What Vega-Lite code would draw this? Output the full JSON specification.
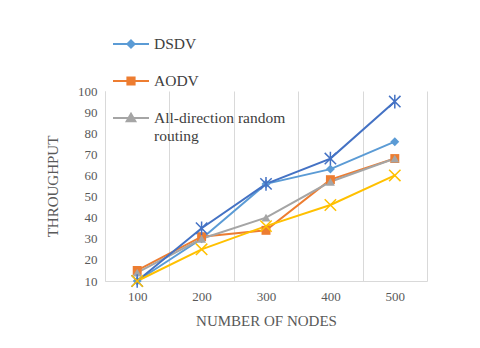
{
  "$schema": "https://vega.github.io/schema/vega-lite/v6.json",
  "width": 322,
  "height": 190,
  "autosize": {"type": "none"},
  "padding": {"left": 105, "top": 91, "right": 53, "bottom": 67},
  "background": "white",
  "config": {
    "view": {"stroke": null},
    "font": "Liberation Serif"
  },
  "data": {
    "values": [
      {"nodes": 100, "series": "DSDV", "throughput": 10},
      {"nodes": 200, "series": "DSDV", "throughput": 30},
      {"nodes": 300, "series": "DSDV", "throughput": 56},
      {"nodes": 400, "series": "DSDV", "throughput": 63},
      {"nodes": 500, "series": "DSDV", "throughput": 76},
      {"nodes": 100, "series": "AODV", "throughput": 15},
      {"nodes": 200, "series": "AODV", "throughput": 31},
      {"nodes": 300, "series": "AODV", "throughput": 34},
      {"nodes": 400, "series": "AODV", "throughput": 58},
      {"nodes": 500, "series": "AODV", "throughput": 68},
      {"nodes": 100, "series": "All-direction random routing", "throughput": 14},
      {"nodes": 200, "series": "All-direction random routing", "throughput": 30},
      {"nodes": 300, "series": "All-direction random routing", "throughput": 40},
      {"nodes": 400, "series": "All-direction random routing", "throughput": 57},
      {"nodes": 500, "series": "All-direction random routing", "throughput": 68},
      {"nodes": 100, "series": "Series 4", "throughput": 10},
      {"nodes": 200, "series": "Series 4", "throughput": 35},
      {"nodes": 300, "series": "Series 4", "throughput": 56},
      {"nodes": 400, "series": "Series 4", "throughput": 68},
      {"nodes": 500, "series": "Series 4", "throughput": 95},
      {"nodes": 100, "series": "Series 5", "throughput": 10},
      {"nodes": 200, "series": "Series 5", "throughput": 25},
      {"nodes": 300, "series": "Series 5", "throughput": 36},
      {"nodes": 400, "series": "Series 5", "throughput": 46},
      {"nodes": 500, "series": "Series 5", "throughput": 60}
    ]
  },
  "encoding": {
    "x": {
      "field": "nodes",
      "type": "ordinal",
      "scale": {"type": "band", "paddingInner": 0, "paddingOuter": 0},
      "axis": {
        "title": "NUMBER OF NODES",
        "labelAngle": 0,
        "labelFont": "Liberation Serif",
        "labelFontSize": 13,
        "labelColor": "#595959",
        "labelPadding": 9,
        "titleFont": "Liberation Serif",
        "titleFontSize": 15,
        "titleFontWeight": "normal",
        "titleColor": "#595959",
        "titlePadding": 10,
        "ticks": false,
        "domainColor": "#d9d9d9",
        "grid": true,
        "gridColor": "#d9d9d9",
        "tickBand": "extent"
      }
    },
    "y": {
      "field": "throughput",
      "type": "quantitative",
      "scale": {"domain": [10, 100], "nice": false, "zero": false},
      "axis": {
        "title": "THROUGHPUT",
        "values": [10, 20, 30, 40, 50, 60, 70, 80, 90, 100],
        "grid": false,
        "ticks": false,
        "domainColor": "#d9d9d9",
        "labelFont": "Liberation Serif",
        "labelFontSize": 13,
        "labelColor": "#595959",
        "labelPadding": 8,
        "titleFont": "Liberation Serif",
        "titleFontSize": 15,
        "titleFontWeight": "normal",
        "titleColor": "#595959",
        "titlePadding": 17
      }
    },
    "color": {
      "field": "series",
      "type": "nominal",
      "scale": {
        "domain": ["DSDV", "AODV", "All-direction random routing", "Series 4", "Series 5"],
        "range": ["#5B9BD5", "#ED7D31", "#A5A5A5", "#4472C4", "#FFC000"]
      },
      "legend": {
        "values": ["DSDV", "AODV", "All-direction random routing"],
        "orient": "none",
        "legendX": 7,
        "legendY": -66,
        "title": null,
        "padding": 0,
        "symbolType": "stroke",
        "symbolSize": 1296,
        "symbolStrokeWidth": 2,
        "labelFont": "Liberation Serif",
        "labelFontSize": 15.5,
        "labelColor": "#404040",
        "labelLimit": 300,
        "labelOffset": 4,
        "rowPadding": 9,
        "labelExpr": "datum.label == 'All-direction random routing' ? ['All-direction random', 'routing'] : datum.label",
        "encode": {
          "symbols": {
            "update": {
              "shape": {"signal": "datum.value == 'DSDV' ? 'M-1,0L1,0M0,-0.2L0.2,0L0,0.2L-0.2,0Z' : datum.value == 'AODV' ? 'M-1,0L1,0M-0.2,-0.2L0.2,-0.2L0.2,0.2L-0.2,0.2Z' : 'M-1,0L1,0M0,-0.24L0.24,0.18L-0.24,0.18Z'"},
              "fill": {"signal": "scale('color', datum.value)"},
              "stroke": {"signal": "scale('color', datum.value)"},
              "strokeWidth": {"value": 2}
            }
          }
        }
      }
    }
  },
  "layer": [
    {
      "mark": {"type": "line", "strokeWidth": 2}
    },
    {
      "transform": [{"filter": "datum.series == 'DSDV' || datum.series == 'AODV' || datum.series == 'All-direction random routing'"}],
      "mark": {"type": "point", "filled": true, "opacity": 1},
      "encoding": {
        "shape": {
          "field": "series",
          "type": "nominal",
          "scale": {
            "domain": ["DSDV", "AODV", "All-direction random routing"],
            "range": ["diamond", "square", "triangle-up"]
          },
          "legend": null
        },
        "size": {"value": 80}
      }
    },
    {
      "transform": [{"filter": "datum.series == 'Series 4'"}],
      "mark": {"type": "point", "filled": false, "opacity": 1, "strokeWidth": 1.5, "shape": "M-1,-1L1,1M1,-1L-1,1M0,-1.2L0,1.2", "size": 130}
    },
    {
      "transform": [{"filter": "datum.series == 'Series 5'"}],
      "mark": {"type": "point", "filled": false, "opacity": 1, "strokeWidth": 1.5, "shape": "M-1,-1L1,1M1,-1L-1,1", "size": 130}
    }
  ]
}
